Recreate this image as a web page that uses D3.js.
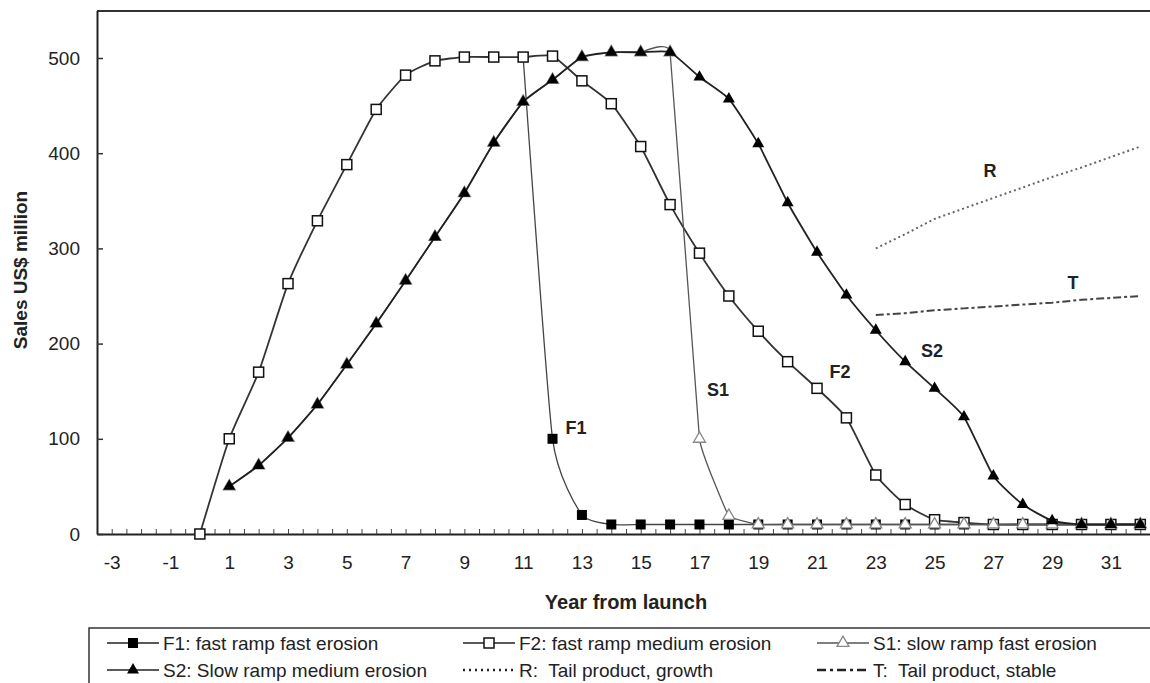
<!DOCTYPE html>
<html>
<head>
<meta charset="utf-8">
<script src="https://cdn.jsdelivr.net/npm/d3@7"></script>
<style>
body { margin:0; background:#fff; }
text { font-family:"Liberation Sans", Arial, sans-serif; fill:#222; }
</style>
</head>
<body>
<script>
// sales, US$ million, one value per year from the start year
var f1Start = 11;
var f1Sales = [501,100,20,10,10,10,10,10,10,10,10,10,10,10,10,10,10,10,10,10,10,10];
var f2Start = 0;
var f2Sales = [0,100,170,263,329,388,446,482,497,501,501,501,502,476,452,407,346,295,250,213,181,153,122,62,31,15,12,10,10,10,10,10,10];
var s1Start = 1;
var s1Sales = [50,72,101,136,178,221,266,312,358,411,454,477,501,506,506,506,100,19,10,10,10,10,10,10,10,10,10,10,10,10,10,10];
var s2Start = 1;
var s2Sales = [50,72,101,136,178,221,266,312,358,411,454,477,501,506,506,506,480,457,410,348,296,251,214,181,153,123,61,31,14,10,10,10];
var rStart = 23;
var rSales = [300,315,331,342,353,364,375,385,396,407];
var tStart = 23;
var tSales = [230,232,235,237,239,241,243,246,248,250];

var yearLabels = [-3,-1,1,3,5,7,9,11,13,15,17,19,21,23,25,27,29,31];
var salesTicks = [0,100,200,300,400,500];
var legendNames = ["F1: fast ramp fast erosion","F2: fast ramp medium erosion","S1: slow ramp fast erosion",
                   "S2: Slow ramp medium erosion","R:  Tail product, growth","T:  Tail product, stable"];

function pts(start, vals) {
	return vals.map(function (v, i) { return {yr: start + i, v: v}; });
}

var svg = d3.select("body").append("svg").attr("width",1150).attr("height",683);
svg.append("rect").attr("width",1150).attr("height",683).attr("fill","#fff");

var x = d3.scaleLinear().domain([-3.5, 32.5]).range([97, 1155]);
var y = d3.scaleLinear().domain([0, 550]).range([534, 10.4]);

// frame top
svg.append("line").attr("x1",97).attr("x2",1150).attr("y1",11).attr("y2",11).attr("stroke","#333").attr("stroke-width",2);

// x axis: small inside ticks every half year, labels on odd years
var halfTicks = d3.range(-3, 33, 0.5);
svg.append("g").attr("transform","translate(0,534)")
	.call(d3.axisBottom(x).tickValues(halfTicks).tickSize(-5).tickSizeOuter(0).tickFormat(""))
	.call(function (g) { g.select(".domain").attr("stroke","#222").attr("stroke-width",2); g.selectAll(".tick line").attr("stroke","#444"); });
svg.append("g").attr("transform","translate(0,534)")
	.call(d3.axisBottom(x).tickValues(yearLabels).tickSize(0).tickPadding(22).tickFormat(function (d) { return String(d); }))
	.call(function (g) { g.select(".domain").remove(); g.selectAll("text").style("font-size","19px").attr("fill","#222"); });

// y axis
svg.append("g").attr("transform","translate(97,0)")
	.call(d3.axisLeft(y).tickValues(salesTicks).tickSize(-6).tickSizeOuter(0).tickPadding(17))
	.call(function (g) { g.select(".domain").attr("stroke","#222").attr("stroke-width",2); g.selectAll(".tick line").attr("stroke","#333").attr("stroke-width",1.5); g.selectAll("text").style("font-size","19px").attr("fill","#222"); });

svg.append("text").attr("x",626).attr("y",609).attr("text-anchor","middle").style("font-size","20px").style("font-weight","bold").text("Year from launch");
svg.append("text").attr("transform","translate(27,270) rotate(-90)").attr("text-anchor","middle").style("font-size","19px").style("font-weight","bold").text("Sales US$ million");

var line = d3.line().x(function (d) { return x(d.yr); }).y(function (d) { return y(d.v); }).curve(d3.curveCardinal.tension(0.5));
var tri = d3.symbol().type(d3.symbolTriangle).size(62);

function drawSeries(data, col, w, marker, tens) {
	svg.append("path").datum(data).attr("d", line.curve(d3.curveCardinal.tension(tens))).attr("fill","none").attr("stroke",col).attr("stroke-width",w);
	var g = svg.append("g");
	data.forEach(function (d) {
		if (marker == "fsq") g.append("rect").attr("x",x(d.yr)-5).attr("y",y(d.v)-5).attr("width",10).attr("height",10).attr("fill","#000");
		if (marker == "osq") g.append("rect").attr("x",x(d.yr)-5).attr("y",y(d.v)-5).attr("width",10).attr("height",10).attr("fill","#fff").attr("stroke","#111").attr("stroke-width",1.5);
		if (marker == "otri") g.append("path").attr("d",tri).attr("transform","translate("+x(d.yr)+","+y(d.v)+")").attr("fill","#fff").attr("stroke","#888").attr("stroke-width",1.3);
		if (marker == "ftri") g.append("path").attr("d",tri).attr("transform","translate("+x(d.yr)+","+y(d.v)+")").attr("fill","#000");
	});
}

drawSeries(pts(f1Start, f1Sales), "#444", 1.3, "fsq", 0.5);
drawSeries(pts(f2Start, f2Sales), "#333", 1.8, "osq", 0.5);
drawSeries(pts(s1Start, s1Sales), "#555", 1.3, "otri", 0.8);
drawSeries(pts(s2Start, s2Sales), "#222", 1.8, "ftri", 0.5);

svg.append("path").datum(pts(rStart, rSales)).attr("d", line.curve(d3.curveLinear)).attr("fill","none").attr("stroke","#666").attr("stroke-width",2).attr("stroke-dasharray","2,3");
svg.append("path").datum(pts(tStart, tSales)).attr("d", line).attr("fill","none").attr("stroke","#444").attr("stroke-width",2).attr("stroke-dasharray","8,3,3,3");

// curve labels
var tags = [["F1",576,428],["S1",718,390],["F2",840,372],["S2",932,351],["R",990,171],["T",1073,283]];
tags.forEach(function (t) {
	svg.append("text").attr("x",t[1]).attr("y",t[2]).attr("text-anchor","middle").attr("dominant-baseline","central")
		.style("font-size","18px").style("font-weight","bold").text(t[0]);
});

// legend
svg.append("rect").attr("x",89).attr("y",628).attr("width",1100).attr("height",80).attr("fill","none").attr("stroke","#333").attr("stroke-width",1.5);
var colX = [107, 463, 817], rowY = [643, 670];
var legStyle = [["#222","fsq",null],["#222","osq",null],["#555","otri",null],["#222","ftri",null],["#222",null,"2,4"],["#222",null,"9,4,3,4"]];
legendNames.forEach(function (name, i) {
	var lx = colX[i % 3], ly = rowY[Math.floor(i / 3)];
	var s = legStyle[i];
	svg.append("line").attr("x1",lx).attr("x2",lx+52).attr("y1",ly).attr("y2",ly).attr("stroke",s[0]).attr("stroke-width",s[2] ? 2.5 : 1.5).attr("stroke-dasharray",s[2]);
	var cx = lx + 26;
	if (s[1] == "fsq") svg.append("rect").attr("x",cx-5).attr("y",ly-5).attr("width",10).attr("height",10).attr("fill","#000");
	if (s[1] == "osq") svg.append("rect").attr("x",cx-5).attr("y",ly-5).attr("width",10).attr("height",10).attr("fill","#fff").attr("stroke","#111").attr("stroke-width",1.5);
	if (s[1] == "otri") svg.append("path").attr("d",tri).attr("transform","translate("+cx+","+ly+")").attr("fill","#fff").attr("stroke","#888").attr("stroke-width",1.3);
	if (s[1] == "ftri") svg.append("path").attr("d",tri).attr("transform","translate("+cx+","+ly+")").attr("fill","#000");
	svg.append("text").attr("x",lx+56).attr("y",ly).attr("dominant-baseline","central").style("font-size","19px").style("white-space","pre").text(name);
});
</script>
</body>
</html>
